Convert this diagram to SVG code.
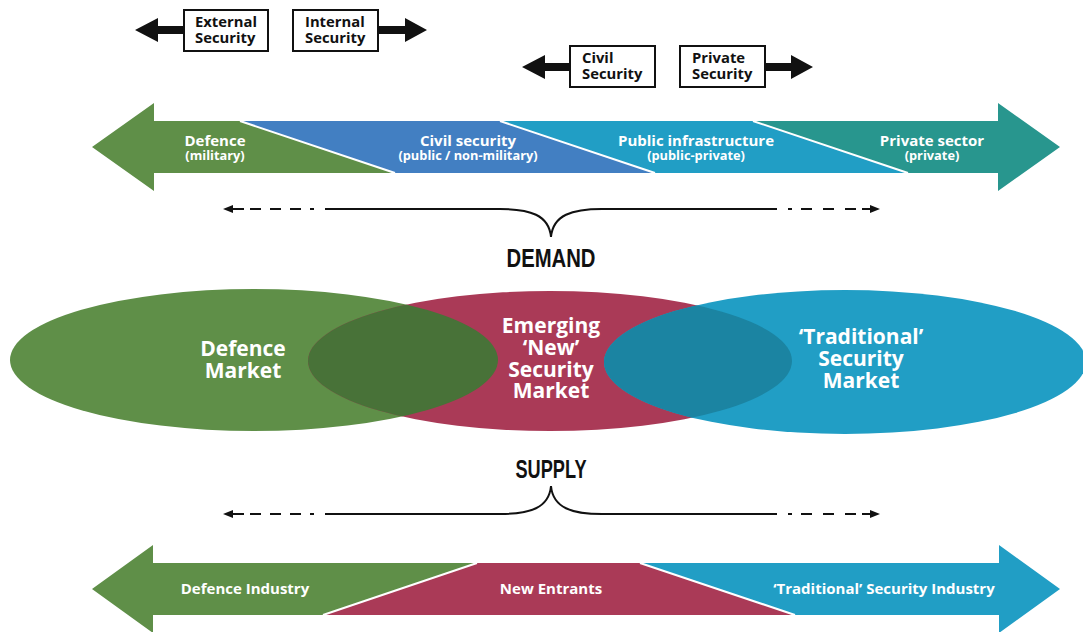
<svg xmlns="http://www.w3.org/2000/svg" width="1083" height="632" viewBox="0 0 1083 632">
<style>
.t{font-family:"Open Sans","Liberation Sans",sans-serif;font-weight:700;fill:#fff;text-anchor:middle}
.bx{font-family:"Open Sans","Liberation Sans",sans-serif;font-weight:700;fill:#111;font-size:14.8px}
.box{fill:#fff;stroke:#111;stroke-width:2}
.blk{fill:#111}
.sep{stroke:#fff;stroke-width:2;fill:none}
.br{stroke:#111;stroke-width:2;fill:none}
.hd{font-family:"Liberation Sans","DejaVu Sans",sans-serif;font-weight:700;fill:#111;text-anchor:middle;font-size:26px}
.g{fill:#5f8f48}.b{fill:#427fc2}.c{fill:#219ec5}.tl{fill:#28968e}.r{fill:#aa3a57}
</style>
<defs>
<clipPath id="cg"><ellipse cx="254" cy="360" rx="244" ry="71"/></clipPath>
<clipPath id="cb"><ellipse cx="845" cy="362" rx="241" ry="72"/></clipPath>
</defs>

<g id="scope-labels">
<g id="external-security">
<polygon class="blk" points="135,30 158,18 158,26 184,26 184,34 158,34 158,42"/>
<rect class="box" x="184" y="10" width="84" height="41"/>
<text class="bx" x="195" y="27">External</text>
<text class="bx" x="195" y="43">Security</text>
</g>
<g id="internal-security">
<polygon class="blk" points="427,30 405,18 405,26 378,26 378,34 405,34 405,42"/>
<rect class="box" x="293" y="10" width="85" height="41"/>
<text class="bx" x="305" y="27">Internal</text>
<text class="bx" x="305" y="43">Security</text>
</g>
<g id="civil-security">
<polygon class="blk" points="522,67 545,55 545,63 570,63 570,71 545,71 545,79"/>
<rect class="box" x="570" y="46" width="85" height="41"/>
<text class="bx" x="582" y="63">Civil</text>
<text class="bx" x="582" y="79">Security</text>
</g>
<g id="private-security">
<polygon class="blk" points="813,67 791,55 791,63 765,63 765,71 791,71 791,79"/>
<rect class="box" x="680" y="46" width="85" height="41"/>
<text class="bx" x="692" y="63">Private</text>
<text class="bx" x="692" y="79">Security</text>
</g>
</g>

<g id="demand-spectrum">
<g id="defence"><polygon class="g" points="92,147 154,103 154,121 240,121 395,173 154,173 154,191"/>
<text class="t" x="215" y="146" font-size="15">Defence</text>
<text class="t" x="215" y="160" font-size="12.8">(military)</text></g>
<g id="civil"><polygon class="b" points="240,121 500,121 655,173 395,173"/>
<text class="t" x="468" y="146" font-size="15">Civil security</text>
<text class="t" x="468" y="160" font-size="12.8">(public / non-military)</text></g>
<g id="public-infra"><polygon class="c" points="500,121 753,121 908,173 655,173"/>
<text class="t" x="696" y="146" font-size="15">Public infrastructure</text>
<text class="t" x="696" y="160" font-size="12.8">(public-private)</text></g>
<g id="private"><polygon class="tl" points="753,121 998,121 998,103 1060,147 998,191 998,173 908,173"/>
<text class="t" x="932" y="146" font-size="15">Private sector</text>
<text class="t" x="932" y="160" font-size="12.8">(private)</text></g>
<path class="sep" d="M240,121 L395,173 M500,121 L655,173 M753,121 L908,173"/>
</g>

<g id="connectors">
<g id="demand-brace">
<path class="br" d="M325,209 H500 C530,209 549,215 551,237 C553,215 572,209 602,209 H777"/>
<path class="br" d="M233,209 H244 M250,209 H261 M270,209 H281 M290,209 H301 M310,209 H314 M788,209 H792 M801,209 H812 M823,209 H834 M845,209 H856 M862,209 H871"/>
<polygon class="blk" points="223,209 233,205 233,213"/>
<polygon class="blk" points="880,209 870,205 870,213"/>
</g>
<g id="supply-brace">
<path class="br" d="M325,514 H500 C530,514 549,508 551,486 C553,508 572,514 602,514 H777"/>
<path class="br" d="M233,514 H244 M250,514 H261 M270,514 H281 M290,514 H301 M310,514 H314 M788,514 H792 M801,514 H812 M823,514 H834 M845,514 H856 M862,514 H871"/>
<polygon class="blk" points="223,514 233,510 233,518"/>
<polygon class="blk" points="880,514 870,510 870,518"/>
</g>
</g>

<g id="demand-label"><text class="hd" x="551" y="267" textLength="89" lengthAdjust="spacingAndGlyphs">DEMAND</text></g>
<g id="supply-label"><text class="hd" x="551" y="478" textLength="71" lengthAdjust="spacingAndGlyphs">SUPPLY</text></g>

<g id="markets">
<g id="defence-market"><ellipse class="g" cx="254" cy="360" rx="244" ry="71"/></g>
<g id="new-market"><ellipse class="r" cx="550" cy="361" rx="242" ry="70"/></g>
<g id="traditional-market"><ellipse class="c" cx="845" cy="362" rx="241" ry="72"/></g>
<ellipse cx="550" cy="361" rx="242" ry="70" fill="#487238" clip-path="url(#cg)"/>
<ellipse cx="550" cy="361" rx="242" ry="70" fill="#1b84a2" clip-path="url(#cb)"/>
<text class="t" x="243" y="356" font-size="21">Defence</text>
<text class="t" x="243" y="378" font-size="21">Market</text>
<text class="t" x="551" y="333" font-size="21">Emerging</text>
<text class="t" x="551" y="355" font-size="21">‘New’</text>
<text class="t" x="551" y="377" font-size="21">Security</text>
<text class="t" x="551" y="398" font-size="21">Market</text>
<text class="t" x="861" y="344" font-size="21">‘Traditional’</text>
<text class="t" x="861" y="366" font-size="21">Security</text>
<text class="t" x="861" y="388" font-size="21">Market</text>
</g>

<g id="supply-spectrum">
<g id="defence-industry"><polygon class="g" points="92,589 153,545 153,563 477,563 323,615 153,615 153,633"/>
<text class="t" x="245" y="594" font-size="15">Defence Industry</text></g>
<g id="new-entrants"><polygon class="r" points="477,563 640,563 795,615 323,615"/>
<text class="t" x="551" y="594" font-size="15">New Entrants</text></g>
<g id="traditional-industry"><polygon class="c" points="640,563 999,563 999,545 1060,589 999,633 999,615 795,615"/>
<text class="t" x="884" y="594" font-size="15">‘Traditional’ Security Industry</text></g>
<path class="sep" d="M477,563 L323,615 M640,563 L795,615"/>
</g>
</svg>
